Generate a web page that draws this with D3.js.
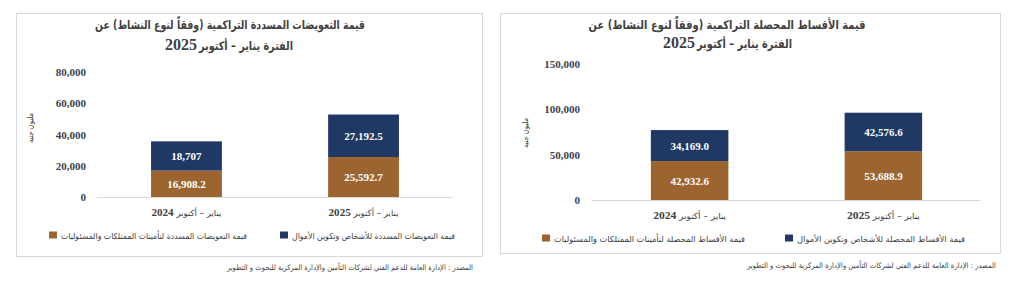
<!DOCTYPE html>
<html><head><meta charset="utf-8">
<script src="https://cdn.jsdelivr.net/npm/d3@7/dist/d3.min.js"></script>
<style>
body{margin:0;background:#fff;}
svg{display:block;}
</style></head>
<body>
<svg id="c" width="1020" height="302"></svg>
<script>
// ---- data ----
const categories = ["يناير – أكتوبر 2024", "يناير – أكتوبر 2025"];
const claimsProperty = [16908.2, 25592.7];
const claimsLife = [18707, 27192.5];
const claimsPropertyLabels = ["16,908.2", "25,592.7"];
const claimsLifeLabels = ["18,707", "27,192.5"];
const claimsTicks = [0, 20000, 40000, 60000, 80000];

const premiumsProperty = [42932.6, 53688.9];
const premiumsLife = [34169.0, 42576.6];
const premiumsPropertyLabels = ["42,932.6", "53,688.9"];
const premiumsLifeLabels = ["34,169.0", "42,576.6"];
const premiumsTicks = [0, 50000, 100000, 150000];

const leftTitle = ["قيمة التعويضات المسددة التراكمية (وفقاً لنوع النشاط) عن", "الفترة يناير – أكتوبر", "2025"];
const rightTitle = ["قيمة الأقساط المحصلة التراكمية (وفقاً لنوع النشاط) عن", "الفترة يناير – أكتوبر", "2025"];
const leftLegend = ["قيمة التعويضات المسددة للأشخاص وتكوين الأموال", "قيمة التعويضات المسددة  لتأمينات الممتلكات والمسئوليات"];
const rightLegend = ["قيمة الأقساط المحصلة للأشخاص وتكوين الأموال", "قيمة الأقساط المحصلة  لتأمينات الممتلكات والمسئوليات"];
const yTitle = "مليون جنيه";
const sourceText = "المصدر : الإدارة العامة للدعم الفني لشركات التأمين والإدارة المركزية للبحوث و التطوير";

const NAVY = "#1f3864", BROWN = "#9c652f", TICK = "#3a4256";
const svg = d3.select("#c");
const arFont = "'DejaVu Sans', sans-serif";
const numFont = "'Liberation Serif', serif";

// RTL text, fitted to a given width, visually centred at cx
function fitCenter(sel, cx, w) {
  sel.attr("textLength", w).attr("lengthAdjust", "spacingAndGlyphs").attr("x", cx + w / 2);
}

function panel(cfg) {
  const g = svg.append("g");
  g.append("rect").attr("x", cfg.box[0] + 0.5).attr("y", cfg.box[1] + 0.5)
    .attr("width", cfg.box[2] - cfg.box[0]).attr("height", cfg.box[3] - cfg.box[1])
    .attr("fill", "#fff").attr("stroke", "#d9d9d9");

  // title line 1
  const t1 = g.append("text").attr("y", cfg.titleY[0])
    .attr("text-anchor", "start").attr("direction", "rtl")
    .attr("font-family", arFont).attr("font-weight", "bold").attr("font-size", 12)
    .attr("fill", "#404040").text(cfg.title[0]);
  fitCenter(t1, cfg.titleX, cfg.titleW);
  // title line 2: Arabic part + year
  g.append("text").attr("x", cfg.t2Right).attr("y", cfg.titleY[1])
    .attr("text-anchor", "start").attr("direction", "rtl")
    .attr("font-family", arFont).attr("font-weight", "bold").attr("font-size", 12)
    .attr("textLength", cfg.t2W).attr("lengthAdjust", "spacingAndGlyphs")
    .attr("fill", "#404040").text(cfg.title[1]);
  g.append("text").attr("x", cfg.t2Right - cfg.t2W - 2).attr("y", cfg.titleY[1])
    .attr("text-anchor", "end")
    .attr("font-family", numFont).attr("font-weight", "bold").attr("font-size", 16)
    .attr("fill", "#404040").text(cfg.title[2]);

  const y = d3.scaleLinear().domain(cfg.domain).range(cfg.yRange);
  const x = d3.scaleBand().domain(categories).range(cfg.xRange).paddingInner(0.6).paddingOuter(0.5);

  // axis
  const ax = g.append("g").attr("transform", `translate(${cfg.tickX},0)`)
    .call(d3.axisLeft(y).tickValues(cfg.ticks).tickSize(0).tickPadding(0).tickFormat(d3.format(",")));
  ax.select(".domain").remove();
  ax.selectAll("text").attr("font-family", numFont).attr("font-weight", "bold")
    .attr("font-size", 11).attr("fill", TICK);

  // baseline
  g.append("line").attr("x1", cfg.baseX[0]).attr("x2", cfg.baseX[1])
    .attr("y1", y(0) + 0.5).attr("y2", y(0) + 0.5).attr("stroke", "#d9d9d9");

  // bars
  categories.forEach((c, i) => {
    const p = cfg.bottom[i], q = cfg.top[i];
    g.append("rect").attr("x", x(c)).attr("width", x.bandwidth())
      .attr("y", y(p)).attr("height", y(0) - y(p)).attr("fill", BROWN);
    g.append("rect").attr("x", x(c)).attr("width", x.bandwidth())
      .attr("y", y(p + q)).attr("height", y(p) - y(p + q)).attr("fill", NAVY);
    g.append("text").attr("x", x(c) + x.bandwidth() / 2).attr("y", (y(0) + y(p)) / 2 + 4)
      .attr("text-anchor", "middle").attr("font-family", numFont).attr("font-weight", "bold")
      .attr("font-size", 11).attr("fill", "#fff").text(cfg.bottomLabels[i]);
    g.append("text").attr("x", x(c) + x.bandwidth() / 2).attr("y", (y(p) + y(p + q)) / 2 + 4)
      .attr("text-anchor", "middle").attr("font-family", numFont).attr("font-weight", "bold")
      .attr("font-size", 11).attr("fill", "#fff").text(cfg.topLabels[i]);
    // category label
    const parts = c.split(" ");
    const yr = parts.pop();
    const ct = g.append("text").attr("y", cfg.catY)
      .attr("text-anchor", "start").attr("direction", "rtl")
      .attr("font-family", arFont).attr("font-size", 8.5).attr("fill", "#404040");
    ct.text(parts.join(" ") + "  ");
    ct.append("tspan").attr("font-family", numFont).attr("font-weight", "bold").attr("font-size", 11).text(yr);
    fitCenter(ct, x(c) + x.bandwidth() / 2, cfg.catW);
  });

  // y title
  g.append("text").attr("transform", `translate(${cfg.yTitle[0]},${cfg.yTitle[1]}) rotate(-90)`)
    .attr("text-anchor", "middle").attr("font-family", arFont).attr("font-size", 8.5)
    .attr("textLength", 30).attr("lengthAdjust", "spacingAndGlyphs")
    .attr("fill", "#404040").text(yTitle);

  // legend
  [[NAVY, 0], [BROWN, 1]].forEach(([col, k]) => {
    const lx = cfg.legendRight[k];
    const w = cfg.legendW[k];
    g.append("text").attr("x", lx).attr("y", cfg.legendY + 3.5)
      .attr("text-anchor", "start").attr("direction", "rtl")
      .attr("font-family", arFont).attr("font-size", 8.3).attr("fill", "#404040")
      .attr("textLength", w).attr("lengthAdjust", "spacingAndGlyphs")
      .text(cfg.legend[k]);
    g.append("rect").attr("x", lx - w - 12).attr("y", cfg.legendY - 3.5).attr("width", 8).attr("height", 7).attr("fill", col);
  });

  // source
  svg.append("text").attr("x", cfg.sourceX).attr("y", cfg.sourceY)
    .attr("text-anchor", "start").attr("direction", "rtl")
    .attr("font-family", arFont).attr("font-size", 7.5).attr("fill", "#404040")
    .attr("textLength", cfg.sourceW).attr("lengthAdjust", "spacingAndGlyphs").text(sourceText);
}

panel({
  box: [16, 13, 482, 256], title: leftTitle, titleX: 230, titleW: 270, titleY: [29, 50],
  t2Right: 293, t2W: 94,
  domain: [0, 80000], yRange: [197, 72], ticks: claimsTicks, tickX: 86,
  xRange: [62.5, 487.5], baseX: [97, 452], catW: 70,
  bottom: claimsProperty, top: claimsLife, bottomLabels: claimsPropertyLabels, topLabels: claimsLifeLabels,
  catY: 216, yTitle: [33, 128], legend: leftLegend, legendRight: [455, 247], legendW: [163, 186], legendY: 235,
  sourceX: 473, sourceY: 270, sourceW: 246
});
panel({
  box: [500, 13, 1000, 253], title: rightTitle, titleX: 727, titleW: 277, titleY: [29, 48],
  t2Right: 792, t2W: 95,
  domain: [0, 150000], yRange: [200, 64], ticks: premiumsTicks, tickX: 580,
  xRange: [554, 1019], baseX: [592, 980], catW: 73,
  bottom: premiumsProperty, top: premiumsLife, bottomLabels: premiumsPropertyLabels, topLabels: premiumsLifeLabels,
  catY: 219, yTitle: [528, 133], legend: rightLegend, legendRight: [965, 745], legendW: [168, 191], legendY: 238,
  sourceX: 996, sourceY: 268, sourceW: 249
});
</script>
</body></html>
